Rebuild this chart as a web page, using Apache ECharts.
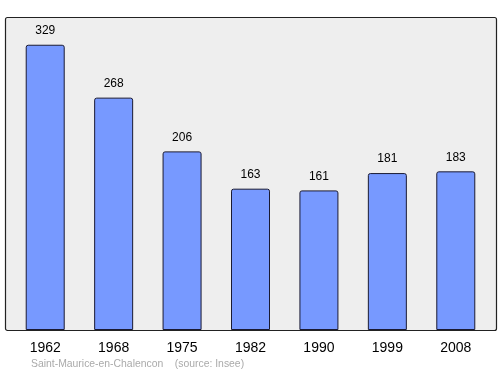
<!DOCTYPE html>
<html><head><meta charset="utf-8">
<script src="https://cdn.jsdelivr.net/npm/echarts@6/dist/echarts.min.js"></script>
<style>html,body{margin:0;padding:0;background:#fff}#c{width:500px;height:374px}</style>
</head><body><div id="c"></div>
<script>
const years = ['1962','1968','1975','1982','1990','1999','2008'];
const population = [329, 268, 206, 163, 161, 181, 183];
const commune = 'Saint-Maurice-en-Chalencon';
const source = '(source: Insee)';

const chart = echarts.init(document.getElementById('c'), null, {renderer:'canvas'});
chart.setOption({
  animation: false,
  backgroundColor: '#ffffff',
  graphic: [
    {type:'rect', z:-10, shape:{x:5.5, y:17.5, width:491, height:313, r:2},
     style:{fill:'#eeeeee', stroke:'#222222', lineWidth:1.2}},
    {type:'text', left:31, top:359.5, style:{text: commune + '    ' + source, fill:'#aaaaaa', font:'10.4px "Liberation Sans", Arial, sans-serif'}}
  ],
  grid: {left: 11, right: 10, top: 17, bottom: 44},
  xAxis: {
    type:'category', data: years,
    axisLine:{show:false}, axisTick:{show:false},
    axisLabel:{color:'#000', fontSize:14, margin:11, fontFamily:'"Liberation Sans", Arial, sans-serif'}
  },
  yAxis: {type:'value', min:0, max:361, show:false, splitLine:{show:false}},
  series: [{
    type:'bar', data: population, barWidth: 39,
    itemStyle:{color:'#7799ff', borderColor:'#1a1a33', borderWidth:1, borderRadius:[2,2,0,0]},
    label:{show:true, position:'top', distance:8, color:'#000', fontSize:12, fontFamily:'"Liberation Sans", Arial, sans-serif'}
  }]
});
</script></body></html>
